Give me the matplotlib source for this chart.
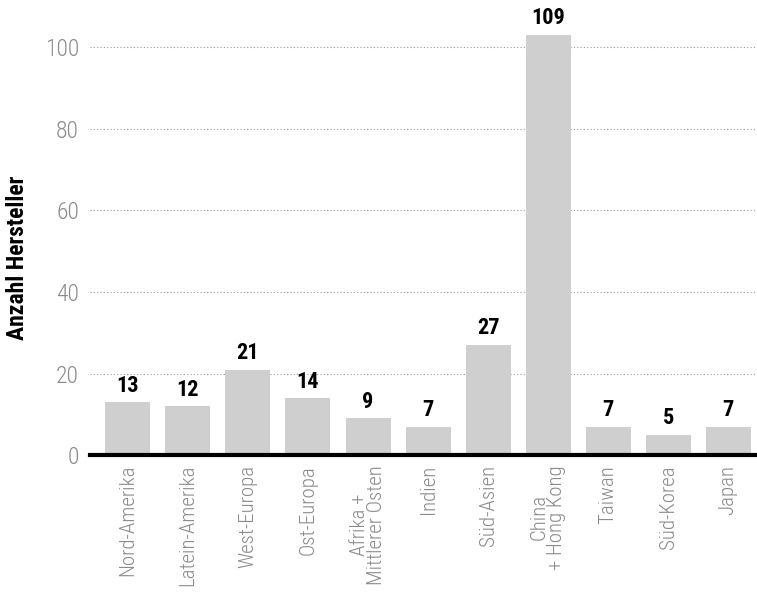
import numpy as np
import matplotlib.pyplot as plt

regionen = ["Nord-Amerika", "Latein-Amerika", "West-Europa", "Ost-Europa",
            "Afrika +\nMittlerer Osten", "Indien", "Süd-Asien",
            "China\n+ Hong Kong", "Taiwan", "Süd-Korea", "Japan"]
hersteller = [13, 12, 21, 14, 9, 7, 27, 109, 7, 5, 7]
yticks = [0, 20, 40, 60, 80, 100]

narrow = ['Liberation Sans Narrow', 'DejaVu Sans Condensed', 'Roboto Condensed',
          'Liberation Sans', 'DejaVu Sans']
ymax = 103

fig = plt.figure(figsize=(7.57, 5.99), dpi=100)
ax = fig.add_axes([0.119, 0.240, 0.881, 0.702])

x = np.arange(len(regionen))
ax.bar(x, hersteller, width=0.75, color='#cfcfcf', zorder=2)

# Werte ueber den Balken (China ragt ueber die Achse hinaus)
for xi, v in zip(x, hersteller):
    ax.annotate(str(v), (xi, min(v, ymax)), xytext=(0, 4), textcoords='offset points',
                ha='center', va='bottom', fontsize=16, fontweight='bold',
                family=narrow, annotation_clip=False)

ax.set_xlim(-0.63, len(regionen) - 0.52)
ax.set_ylim(0, ymax)
ax.set_yticks(yticks)
ax.set_yticklabels([str(t) for t in yticks], family=narrow, fontsize=17,
                   color='#8a8a8a', fontweight='light')
ax.yaxis.grid(True, linestyle=(0, (1, 2)), color='#999999', linewidth=0.8, zorder=0)
ax.tick_params(axis='y', length=0, pad=8)

ax.set_xticks(x)
ax.set_xticklabels(regionen, rotation=90, family=narrow, fontsize=15, color='#8a8a8a',
                   fontweight='light', va='top', ha='center', linespacing=0.9)
ax.tick_params(axis='x', length=0, pad=7)

for s in ['top', 'right', 'left']:
    ax.spines[s].set_visible(False)
ax.spines['bottom'].set_linewidth(3)
ax.spines['bottom'].set_color('black')
ax.spines['bottom'].set_zorder(3)

ax.set_ylabel("Anzahl Hersteller", family=narrow, fontsize=17, fontweight='bold')
ax.yaxis.set_label_coords(-0.092, 0.47)

fig.savefig("out.png", dpi=100)
